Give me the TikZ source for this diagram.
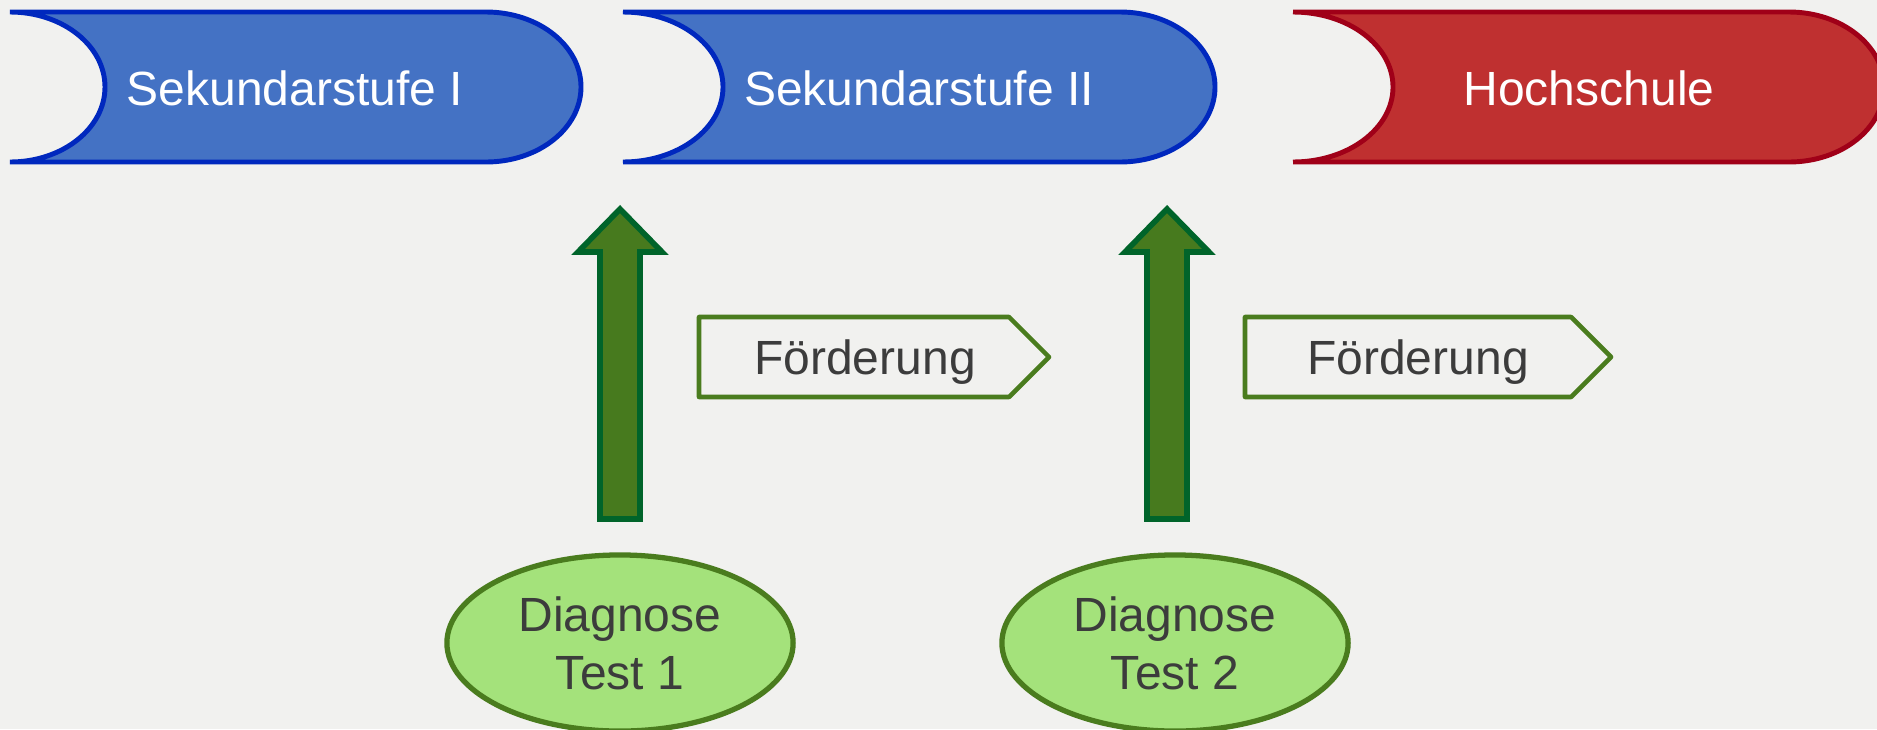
\documentclass[tikz,border=0pt]{standalone}
\usepackage{fontspec}
\setmainfont{Liberation Sans}
\usetikzlibrary{shapes.geometric}
\definecolor{bg}{HTML}{F1F1EF}
\definecolor{stufeblue}{HTML}{4472C4}
\definecolor{stufeline}{HTML}{0028BE}
\definecolor{hochred}{HTML}{BF3030}
\definecolor{hochline}{HTML}{A00018}
\definecolor{arrowgreen}{HTML}{477A1E}
\definecolor{arrowline}{HTML}{00642A}
\definecolor{olive}{HTML}{4A7C1E}
\definecolor{lightgreen}{HTML}{A4E27B}
\definecolor{txtgray}{HTML}{3C3C3C}
\begin{document}
\begin{tikzpicture}[x=0.01cm,y=0.01cm,
			stufe/.style={fill=stufeblue,draw=stufeline,line width=1.4pt,line cap=round},
			hoch/.style={fill=hochred,draw=hochline,line width=1.4pt,line cap=round},
			blockarrow/.style={fill=arrowgreen,draw=arrowline,line width=1.6pt},
			foerder/.style={draw=olive,line width=1.3pt,line join=round},
			banner text/.style={text=white,anchor=base,font=\fontsize{13.65}{16.4}\selectfont},
			gray text/.style={text=txtgray,anchor=base,font=\fontsize{13.65}{16.4}\selectfont},
			diagnose/.style={ellipse,fill=lightgreen,draw=olive,line width=1.5pt,
				minimum width=3.46cm,minimum height=1.76cm,inner sep=0pt,align=center,
				text=txtgray,font=\fontsize{13.65}{16.4}\selectfont},]
\fill[bg] (0,0) rectangle (1877,729);
\useasboundingbox (0,0) rectangle (1877,729);
\clip (0,0) rectangle (1877,729);
% Stufen
\draw[stufe] (10,717) -- (486,717) arc[start angle=90,end angle=-90,x radius=95,y radius=75]
	-- (10,567) arc[start angle=-90,end angle=90,x radius=95,y radius=75] -- cycle;
\draw[stufe] (623,717) -- (1120,717) arc[start angle=90,end angle=-90,x radius=95,y radius=75]
	-- (623,567) arc[start angle=-90,end angle=90,x radius=100,y radius=75] -- cycle;
\draw[hoch] (1293,717) -- (1789,717) arc[start angle=90,end angle=-90,x radius=95,y radius=75]
	-- (1293,567) arc[start angle=-90,end angle=90,x radius=100,y radius=75] -- cycle;
\node[banner text] (sek1) at (295,624) {Sekundarstufe I};
\node[banner text] (sek2) at (919,624) {Sekundarstufe II};
\node[banner text] (hs) at (1589,624) {Hochschule};
% Diagnose
\node[diagnose] (test1) at (620,86) {Diagnose\\Test 1};
\node[diagnose] (test2) at (1175,86) {Diagnose\\Test 2};
\draw[blockarrow] (600,210) -- (600,477) -- (578,477) -- (620,520) -- (662,477)
	-- (640,477) -- (640,210) -- cycle;
\draw[blockarrow] (1147,210) -- (1147,477) -- (1125,477) -- (1167,520) -- (1209,477)
	-- (1187,477) -- (1187,210) -- cycle;
% Foerderung
\draw[foerder] (699,412) -- (1009,412) -- (1049,372) -- (1009,332) -- (699,332) -- cycle;
\draw[foerder] (1245,412) -- (1571,412) -- (1611,372) -- (1571,332) -- (1245,332) -- cycle;
\node[gray text] (f1) at (865,355) {Förderung};
\node[gray text] (f2) at (1418,355) {Förderung};
\end{tikzpicture}
\end{document}
